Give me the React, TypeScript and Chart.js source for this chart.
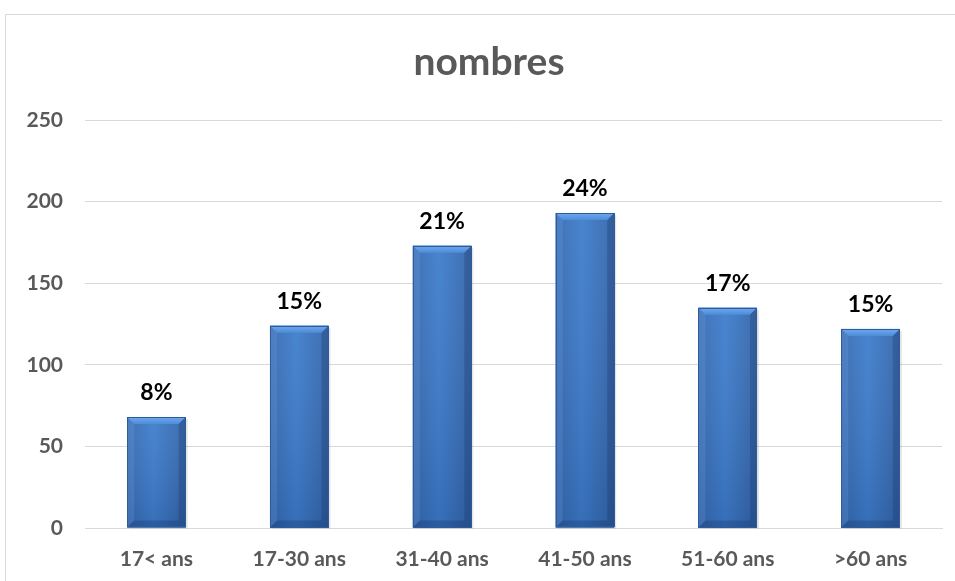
import React, { useEffect, useRef } from "react";
import { Chart, registerables } from "chart.js";

Chart.register(...registerables);

// Age groups and head counts
const categories = ["17< ans", "17-30 ans", "31-40 ans", "41-50 ans", "51-60 ans", ">60 ans"];
const counts = [68, 124, 173, 193, 135, 122];
const yTickValues = [0, 50, 100, 150, 200, 250];
const chartTitle = "nombres";

const total = counts.reduce((a, b) => a + b, 0);
const percentLabels = counts.map((v) => Math.round((v / total) * 100) + "%");

const FONT = "Lato, 'Open Sans', 'Noto Sans', sans-serif";

// White background, light grey outer frame and the heading centred on the frame
const framePlugin = {
  id: "frame",
  beforeDraw(chart: any) {
    const ctx = chart.ctx;
    ctx.save();
    ctx.fillStyle = "#ffffff";
    ctx.fillRect(0, 0, chart.width, chart.height);
    ctx.strokeStyle = "#d9d9d9";
    ctx.lineWidth = 1;
    ctx.strokeRect(5.5, 14.5, chart.width + 20, chart.height + 20);
    ctx.font = `bold 39px ${FONT}`;
    ctx.fillStyle = "#595959";
    ctx.textAlign = "center";
    ctx.textBaseline = "middle";
    ctx.fillText(chartTitle, 489, 62);
    ctx.restore();
  },
};

// Bevelled bars with a blue gradient
const bevelPlugin = {
  id: "bevelBars",
  afterDatasetsDraw(chart: any) {
    const ctx = chart.ctx;
    const meta = chart.getDatasetMeta(0);
    meta.data.forEach((bar: any) => {
      const { x, y, base, width } = bar.getProps(["x", "y", "base", "width"], true);
      const l = x - width / 2;
      const r = x + width / 2;
      const t = y;
      const b = base;
      const h = b - t;
      const bev = Math.min(7, h / 4);
      ctx.save();

      // soft shadow
      ctx.fillStyle = "rgba(0,0,0,0.10)";
      ctx.fillRect(l + 2, t + 2, width, h - 1);

      // body
      const g = ctx.createLinearGradient(l, 0, r, 0);
      g.addColorStop(0, "#3669b0");
      g.addColorStop(0.45, "#3d7dcc");
      g.addColorStop(1, "#3364a9");
      ctx.fillStyle = g;
      ctx.fillRect(l, t, width, h);
      const gv = ctx.createLinearGradient(0, t, 0, b);
      gv.addColorStop(0, "rgba(255,255,255,0.06)");
      gv.addColorStop(1, "rgba(0,10,40,0.12)");
      ctx.fillStyle = gv;
      ctx.fillRect(l, t, width, h);

      // top bevel
      const gt = ctx.createLinearGradient(0, t, 0, t + bev);
      gt.addColorStop(0, "#70aaef");
      gt.addColorStop(1, "#4e8cd9");
      ctx.fillStyle = gt;
      ctx.beginPath();
      ctx.moveTo(l, t);
      ctx.lineTo(r, t);
      ctx.lineTo(r - bev, t + bev);
      ctx.lineTo(l + bev, t + bev);
      ctx.closePath();
      ctx.fill();

      // left bevel
      ctx.fillStyle = "rgba(120,170,235,0.22)";
      ctx.beginPath();
      ctx.moveTo(l, t);
      ctx.lineTo(l + bev, t + bev);
      ctx.lineTo(l + bev, b - bev);
      ctx.lineTo(l, b);
      ctx.closePath();
      ctx.fill();

      // right bevel
      ctx.fillStyle = "rgba(20,50,100,0.28)";
      ctx.beginPath();
      ctx.moveTo(r, t);
      ctx.lineTo(r - bev, t + bev);
      ctx.lineTo(r - bev, b - bev);
      ctx.lineTo(r, b);
      ctx.closePath();
      ctx.fill();

      // bottom bevel
      ctx.fillStyle = "rgba(15,40,90,0.25)";
      ctx.beginPath();
      ctx.moveTo(l, b);
      ctx.lineTo(l + bev, b - bev);
      ctx.lineTo(r - bev, b - bev);
      ctx.lineTo(r, b);
      ctx.closePath();
      ctx.fill();

      // outline
      ctx.strokeStyle = "#2d5c9c";
      ctx.lineWidth = 1;
      ctx.strokeRect(Math.round(l) + 0.5, Math.round(t) + 0.5, Math.round(width) - 1, Math.round(h) - 1);
      ctx.restore();
    });
  },
};

// Percentage labels above each bar
const percentPlugin = {
  id: "percentLabels",
  afterDatasetsDraw(chart: any) {
    const ctx = chart.ctx;
    const meta = chart.getDatasetMeta(0);
    ctx.save();
    ctx.font = `bold 23px ${FONT}`;
    ctx.fillStyle = "#000000";
    ctx.textAlign = "center";
    ctx.textBaseline = "middle";
    meta.data.forEach((bar: any, i: number) => {
      ctx.fillText(percentLabels[i], bar.x, bar.y - 24);
    });
    ctx.restore();
  },
};

export default function App() {
  const canvasRef = useRef<HTMLCanvasElement | null>(null);

  useEffect(() => {
    if (!canvasRef.current) return;
    const chart = new Chart(canvasRef.current, {
      type: "bar",
      data: {
        labels: categories,
        datasets: [
          {
            label: chartTitle,
            data: counts,
            backgroundColor: "#3a76c4",
            barPercentage: 0.41,
            categoryPercentage: 1,
          },
        ],
      },
      options: {
        responsive: false,
        animation: false,
        layout: { padding: { left: 0, right: 13, top: 120, bottom: 0 } },
        plugins: {
          legend: { display: false },
          tooltip: { enabled: false },
          title: { display: false },
        },
        scales: {
          x: {
            grid: { display: false, drawTicks: false },
            border: { display: true, color: "#d9d9d9" },
            ticks: {
              color: "#595959",
              font: { family: FONT, size: 21, weight: "bold" },
              padding: 19,
              maxRotation: 0,
            },
            afterFit(scale: any) {
              scale.height = 53;
            },
          },
          y: {
            min: 0,
            max: 250,
            afterBuildTicks(scale: any) {
              scale.ticks = yTickValues.map((v) => ({ value: v }));
            },
            grid: { color: "#d9d9d9", lineWidth: 1, drawTicks: false },
            border: { display: false },
            ticks: {
              color: "#595959",
              font: { family: FONT, size: 21, weight: "bold" },
              padding: 22,
            },
            afterFit(scale: any) {
              scale.width = 85;
            },
          },
        },
      },
      plugins: [framePlugin, bevelPlugin, percentPlugin],
    });
    return () => chart.destroy();
  }, []);

  return (
    <div style={{ position: "absolute", left: 0, top: 0, width: 955, height: 581, background: "#fff" }}>
      <canvas ref={canvasRef} width={955} height={581} />
    </div>
  );
}
